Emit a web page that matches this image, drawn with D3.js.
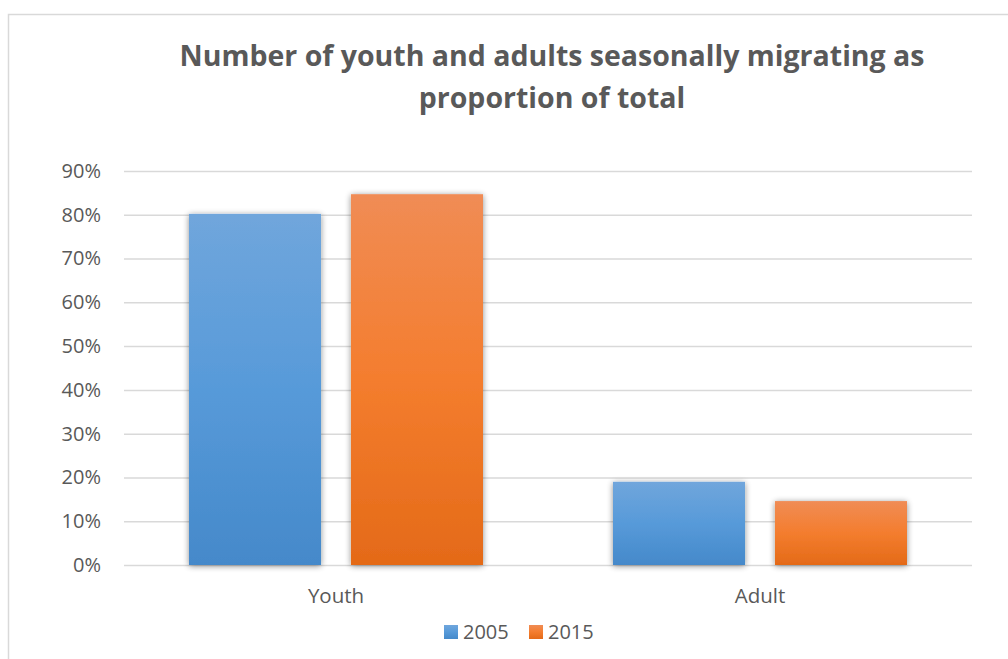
<!DOCTYPE html>
<html><head><meta charset="utf-8">
<script src="https://cdn.jsdelivr.net/npm/d3@7"></script>
<style>body{margin:0;background:#fff}svg{display:block}</style>
</head><body>
<script>
const categories = ["Youth", "Adult"];
const seriesNames = ["2005", "2015"];
const values2005 = [0.802, 0.190];
const values2015 = [0.847, 0.146];
const yTicks = [0, 0.1, 0.2, 0.3, 0.4, 0.5, 0.6, 0.7, 0.8, 0.9];
const titleLines = ["Number of youth and adults seasonally migrating as", "proportion of total"];

(function () {
const W = 1008, H = 659;
const svg = d3.select("body").append("svg").attr("width", W).attr("height", H);
const defs = svg.append("defs");
const grads = [["g2005", "#70a6dc", "#579ad9", "#4589ca"], ["g2015", "#f08c55", "#f47d2e", "#e46a18"]];
grads.forEach(([id, a, mid, b]) => {
  const g = defs.append("linearGradient").attr("id", id).attr("x1", 0).attr("y1", 0).attr("x2", 0).attr("y2", 1);
  g.append("stop").attr("offset", "0%").attr("stop-color", a);
  g.append("stop").attr("offset", "50%").attr("stop-color", mid);
  g.append("stop").attr("offset", "100%").attr("stop-color", b);
});
const f = defs.append("filter").attr("id", "sh").attr("x", "-20%").attr("y", "-20%").attr("width", "140%").attr("height", "140%");
f.append("feGaussianBlur").attr("in", "SourceAlpha").attr("stdDeviation", 3).attr("result", "b");
f.append("feOffset").attr("in", "b").attr("dx", 0).attr("dy", 1).attr("result", "o");
f.append("feComponentTransfer").attr("in", "o").attr("result", "o2").append("feFuncA").attr("type", "linear").attr("slope", 0.45);
const m = f.append("feMerge"); m.append("feMergeNode").attr("in", "o2"); m.append("feMergeNode").attr("in", "SourceGraphic");

svg.append("rect").attr("x", 8.5).attr("y", 14.5).attr("width", 1010).attr("height", 660)
  .attr("fill", "#fff").attr("stroke", "#d9d9d9").attr("stroke-width", 1.5);

const font = "'Open Sans', 'Liberation Sans', sans-serif";
const pl = 124, pr = 972, pt = 171, pb = 565;
const y = d3.scaleLinear().domain([0, 0.9]).range([pb, pt]);
const x0 = d3.scaleBand().domain(categories).range([pl, pr]).paddingInner(0.3066).paddingOuter(0.1533);
const x1 = d3.scaleBand().domain(seriesNames).range([0, x0.bandwidth()]).paddingInner(0.185);

svg.append("g").selectAll("text").data(titleLines).join("text")
  .attr("x", 552).attr("y", (d, i) => 66 + i * 42).attr("text-anchor", "middle")
  .attr("font-family", font).attr("font-weight", "bold").attr("font-size", 28.5).attr("fill", "#595959").text(d => d);

const yAxis = d3.axisLeft(y).tickValues(yTicks).tickFormat(d3.format(".0%")).tickSize(-(pr - pl)).tickPadding(23);
const ga = svg.append("g").attr("transform", `translate(${pl},0)`).call(yAxis);
ga.select(".domain").remove();
ga.selectAll(".tick line").attr("stroke", "#d9d9d9").attr("stroke-width", 1.5);
ga.selectAll(".tick text").attr("font-family", font).attr("font-size", 20).attr("fill", "#595959");

const data = categories.map((c, i) => ({c, vals: [values2005[i], values2015[i]]}));
const gb = svg.append("g");
data.forEach(d => {
  d.vals.forEach((v, j) => {
    gb.append("rect").attr("x", x0(d.c) + x1(seriesNames[j])).attr("y", y(v))
      .attr("width", x1.bandwidth()).attr("height", y(0) - y(v))
      .attr("fill", `url(#g${seriesNames[j]})`).attr("filter", "url(#sh)");
  });
});

svg.append("g").selectAll("text").data(categories).join("text")
  .attr("x", d => x0(d) + x0.bandwidth() / 2).attr("y", 603).attr("text-anchor", "middle")
  .attr("font-family", font).attr("font-size", 20.5).attr("fill", "#595959").text(d => d);

const legX = [444, 529];
const lg = svg.append("g");
seriesNames.forEach((s, i) => {
  lg.append("rect").attr("x", legX[i]).attr("y", 625).attr("width", 14).attr("height", 14).attr("fill", `url(#g${s})`);
  lg.append("text").attr("x", legX[i] + 19).attr("y", 639).attr("font-family", font).attr("font-size", 20).attr("fill", "#595959").text(s);
});
})();
</script>
</body></html>
